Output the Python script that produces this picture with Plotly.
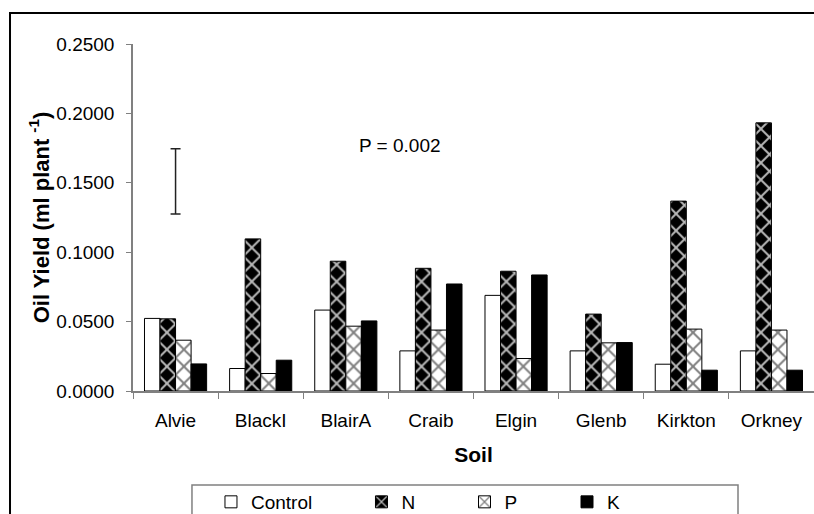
import plotly.graph_objects as go

soils = ["Alvie", "BlackI", "BlairA", "Craib", "Elgin", "Glenb", "Kirkton", "Orkney"]
control = [0.0523, 0.0162, 0.0583, 0.0289, 0.0689, 0.0289, 0.0193, 0.0289]
n_vals = [0.0520, 0.1096, 0.0935, 0.0884, 0.0863, 0.0554, 0.1368, 0.1932]
p_vals = [0.0366, 0.0126, 0.0467, 0.0439, 0.0234, 0.0347, 0.0446, 0.0439]
k_vals = [0.0195, 0.0222, 0.0505, 0.0771, 0.0836, 0.0349, 0.0150, 0.0150]

lsd_center = 0.1510
lsd_half = 0.0235
p_label = "P = 0.002"
p_pos = (2.64, 0.1768)

FONT = "Liberation Sans, Arial, sans-serif"

fig = go.Figure()
fig.add_trace(go.Bar(name="Control", x=soils, y=control, legend="legend",
                     marker=dict(color="white", line=dict(color="black", width=1))))
fig.add_trace(go.Bar(name="N", x=soils, y=n_vals, legend="legend2",
                     marker=dict(color="black", line=dict(color="black", width=1),
                                 pattern=dict(shape="x", bgcolor="black", fgcolor="#b8b8b8",
                                              size=12, solidity=0.3, fillmode="replace"))))
fig.add_trace(go.Bar(name="P", x=soils, y=p_vals, legend="legend3",
                     marker=dict(color="white", line=dict(color="black", width=1),
                                 pattern=dict(shape="x", bgcolor="white", fgcolor="#808080",
                                              size=12, solidity=0.3, fillmode="replace"))))
fig.add_trace(go.Bar(name="K", x=soils, y=k_vals, legend="legend4",
                     marker=dict(color="black", line=dict(color="black", width=1))))

fig.add_trace(go.Scatter(x=[soils[0]], y=[lsd_center], mode="markers",
                         marker=dict(size=1, color="rgba(0,0,0,0)"),
                         error_y=dict(type="data", array=[lsd_half], color="#222222",
                                      thickness=1.5, width=5),
                         showlegend=False, hoverinfo="skip"))

fig.add_annotation(x=p_pos[0], y=p_pos[1], text=p_label, showarrow=False,
                   font=dict(size=19, color="black", family=FONT), xanchor="center", yanchor="middle")

# outer chart-area border
fig.add_shape(type="rect", xref="paper", yref="paper",
              x0=-0.1806, x1=1.02, y0=-0.40, y1=1.0893,
              line=dict(color="black", width=2), fillcolor="rgba(0,0,0,0)", layer="below")
# legend box
fig.add_shape(type="rect", xref="paper", yref="paper",
              x0=0.0866, x1=0.8884, y0=-0.40, y1=-0.2709,
              line=dict(color="#808080", width=1.5), fillcolor="white", layer="below")

leg_common = dict(orientation="h", xanchor="left", y=-0.2651, yanchor="top",
                  borderwidth=0, bgcolor="rgba(0,0,0,0)", font=dict(size=19, family=FONT))

fig.update_layout(
    width=814, height=514,
    margin=dict(l=133, r=0, t=44, b=123, autoexpand=False),
    paper_bgcolor="white", plot_bgcolor="white",
    font=dict(family=FONT, size=19, color="black"),
    barmode="group", bargap=0.27, bargroupgap=0,
    showlegend=True,
    legend=dict(x=0.1145, **leg_common),
    legend2=dict(x=0.3355, **leg_common),
    legend3=dict(x=0.4868, **leg_common),
    legend4=dict(x=0.6373, **leg_common),
    xaxis=dict(type="category", range=[-0.5, 7.5], tickson="boundaries", ticks="outside",
               ticklen=6, tickcolor="#808080", showline=True, linecolor="#808080", linewidth=1.5,
               showgrid=False, tickfont=dict(size=19, family=FONT), ticklabelstandoff=11,
               title=dict(text="<b>Soil</b>", font=dict(size=21, family=FONT), standoff=18)),
    yaxis=dict(range=[0, 0.25], dtick=0.05, tickformat=".4f", ticks="outside", ticklen=5,
               tickcolor="#808080", showline=True, linecolor="#808080", linewidth=1.5,
               showgrid=False, zeroline=False, tickfont=dict(size=19, family=FONT),
               ticklabelstandoff=8,
               title=dict(text="<b>Oil Yield (ml plant <sup>-1</sup>)</b>",
                          font=dict(size=22, family=FONT), standoff=1)),
)

fig.write_html("out.html")
